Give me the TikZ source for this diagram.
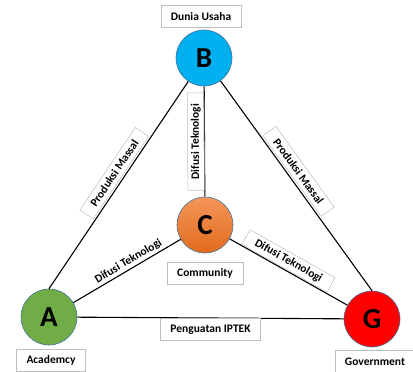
\documentclass[tikz,border=0pt]{standalone}
\usepackage{fontspec}
\setmainfont{Carlito}
\usetikzlibrary{positioning}
\definecolor{bcyan}{RGB}{0,176,240}
\definecolor{agreen}{RGB}{112,173,71}
\definecolor{gred}{RGB}{255,0,0}
\definecolor{corangeT}{RGB}{244,150,90}
\definecolor{corangeB}{RGB}{226,106,28}
\definecolor{ringline}{RGB}{65,113,156}
\definecolor{tagline}{RGB}{190,190,190}
\begin{document}
\begin{tikzpicture}
	 [scale =1]
	 \tikzset{node distance =2cm, auto}
	\tikzstyle{actor}=[circle,draw=ringline,line width=0.6pt,minimum size=56.0 pt,inner sep=0pt,font=\fontsize{29}{30}\selectfont\bfseries]
	\tikzstyle{tag}=[rectangle,draw=tagline,line width=0.5pt,minimum height=22.0 pt,inner xsep=10pt,font=\fontsize{11.5}{13}\selectfont\bfseries]
	\tikzstyle{flow}=[rectangle,draw=tagline,line width=0.5pt,minimum height=16.0 pt,inner xsep=11pt,font=\fontsize{11.5}{13}\selectfont\bfseries]
	\tikzstyle{link}=[line width=1.1pt,black]
	\useasboundingbox (0 pt,0 pt) rectangle (413 pt,-372 pt);
	\node [actor,fill=bcyan] (b) at (204.0 pt,-58.0 pt) {B};
	\node [actor,top color=corangeT,bottom color=corangeB] (c) at (205.0 pt,-225.0 pt) {C};
	\node [actor,fill=agreen] (a) at (49.0 pt,-317.0 pt) {A};
	\node [actor,fill=gred] (g) at (372.0 pt,-319.0 pt) {G};
	\node [tag,above=2pt of b,xshift=-3pt] (lb) {Dunia Usaha};
	\node [tag,below=9pt of c] (lc) {Community};
	\node [tag,below=4pt of a,xshift=2pt] (la) {Academcy};
	\node [tag,below=3pt of g,xshift=3pt] (lg) {Government};
	\draw[link] (a.north) -- node[flow,sloped,above=2pt,pos=0.53] {Produksi Massal} (b);
	\draw[link] (b) -- node[flow,sloped,above=2pt,pos=0.46] {Produksi Massal} (g.north);
	\draw[link] (c) -- node[flow,sloped,allow upside down,above=0pt,pos=0.5] {Difusi Teknologi} (b);
	\draw[link] (a) -- node[sloped,above=1pt,pos=0.55,inner sep=1pt,font=\fontsize{11.5}{13}\selectfont\bfseries] {Difusi Teknologi} (c);
	\draw[link] (c) -- node[flow,sloped,above=1pt,pos=0.46] {Difusi Teknologi} (g);
	\draw[link] (a) -- node[tag,below=0pt,pos=0.5] (lag) {Penguatan IPTEK} (g);
	\end{tikzpicture}
\end{document}
